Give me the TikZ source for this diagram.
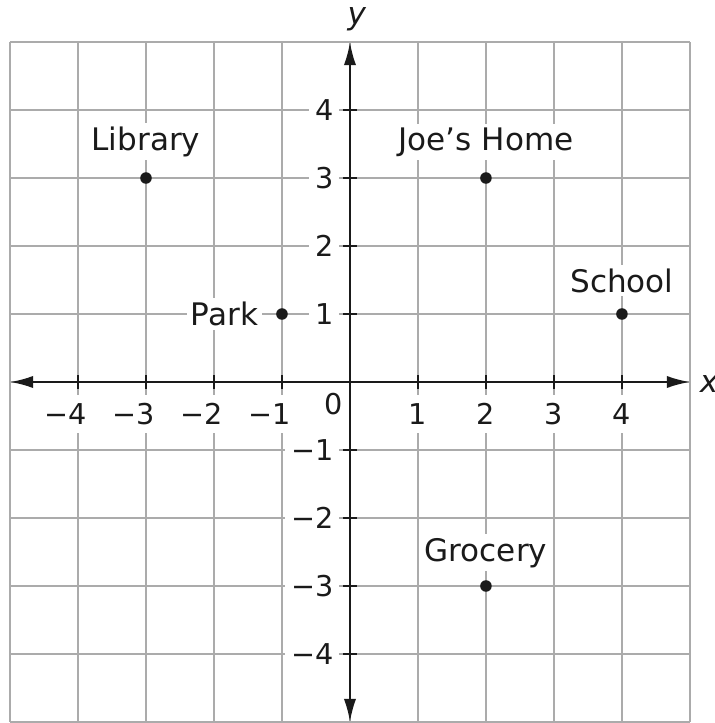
\documentclass[tikz,border=0pt]{standalone}
\usepackage{fontspec}
\setmainfont{DejaVu Sans}
\usepackage{tikz}
\usetikzlibrary{positioning, arrows.meta}
\usepackage{xcolor}
\definecolor{GridGray}{HTML}{ABABAB}
\definecolor{Ink}{HTML}{1A1A1A}

\begin{document}
\begin{tikzpicture}[
    every node/.style={font=\fontsize{13}{15}\selectfont, text=Ink},
    place/.style={circle, fill=Ink, inner sep=0pt, minimum size=0.17cm},
    tag/.style={fill=white, inner sep=1.5pt},
    numx/.style={fill=white, inner xsep=1pt, inner ysep=3.5pt, font=\fontsize{12}{14}\selectfont},
    numy/.style={fill=white, inner sep=2.5pt, anchor=east, font=\fontsize{12}{14}\selectfont},
    axis/.style={line width=0.9pt, Ink, {Latex[length=3.4mm, width=1.8mm]}-{Latex[length=3.4mm, width=1.8mm]}}
]
\useasboundingbox (-5.147,-5.015) rectangle (5.368,5.618);

% === Grid ===
\draw[GridGray, line width=0.6pt] (-5,-5) grid (5,5);

% === Tick numbers ===
\foreach \i in {1,2,3,4} {
    \node[numx] (xp\i) at (\i,-0.47) {\i};
    \node[numx] (xn\i) at (-\i,-0.47) {\llap{−}\i};
    \node[numy] (yp\i) at (-0.15,\i) {\i};
    \node[numy] (yn\i) at (-0.15,-\i) {−\i};
}
\node[numx] (orig) at (-0.24,-0.32) {0};

% === Axes ===
\coordinate (xl) at (-5,0);
\coordinate (xr) at (5,0);
\coordinate (yb) at (0,-5);
\coordinate (yt) at (0,5);
\draw[axis] (xl) -- (xr);
\draw[axis] (yb) -- (yt);
\foreach \i in {-4,...,-1,1,2,3,4} {
    \draw[Ink, line width=0.7pt] (\i,-0.1) -- (\i,0.1);
    \draw[Ink, line width=0.7pt] (-0.1,\i) -- (0.1,\i);
}
\node[anchor=base, font=\fontsize{13}{15}\selectfont\itshape] (xlab) at (5.28,-0.16) {x};
\node[anchor=base, font=\fontsize{13}{15}\selectfont\itshape] (ylab) at (0.1,5.26) {y};

% === Places ===
\node[place] (library) at (-3,3) {};
\node[place] (home) at (2,3) {};
\node[place] (school) at (4,1) {};
\node[place] (park) at (-1,1) {};
\node[place] (grocery) at (2,-3) {};

\node[tag, above=0.16cm of library] {Library};
\node[tag, above=0.16cm of home] {Joe’s Home};
\node[tag, above=0.16cm of school] {School};
\node[tag, above=0.12cm of grocery] {Grocery};
\node[tag, left=0.2cm of park] {Park};

\end{tikzpicture}
\end{document}
